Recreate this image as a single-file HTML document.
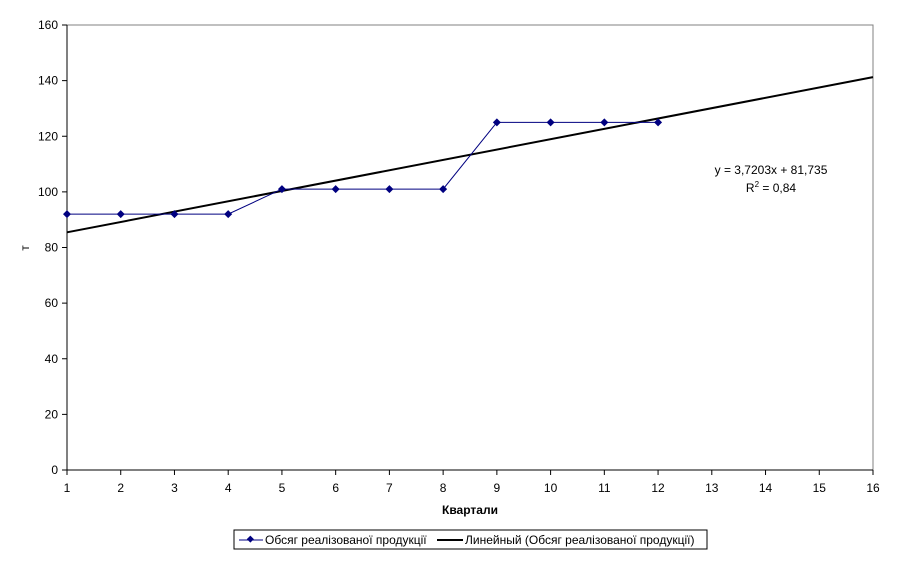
<!DOCTYPE html>
<html><head><meta charset="utf-8"><style>
body{margin:0;background:#fff}
svg text{font-family:"Liberation Sans",sans-serif;font-size:12px;fill:#000}
</style></head><body>
<svg id="c" width="897" height="558" xmlns="http://www.w3.org/2000/svg">
<rect x="67" y="25" width="806" height="445" fill="#fff" stroke="#808080"/>
<g id="axes"></g>
<g id="marks"></g>
<text x="29" y="248" transform="rotate(-90 29 248)" text-anchor="middle">т</text>
<text x="470" y="514" text-anchor="middle" font-weight="bold" style="font-weight:bold">Квартали</text>
<text x="771" y="174" text-anchor="middle">y = 3,7203x + 81,735</text>
<text x="771" y="192" text-anchor="middle">R<tspan font-size="8" dy="-5">2</tspan><tspan dy="5"> = 0,84</tspan></text>
<g>
<rect x="234" y="530" width="473" height="19" fill="#fff" stroke="#000"/>
<g>
<line x1="239" y1="540" x2="263" y2="540" stroke="#000080"/>
<rect x="247.5" y="536.5" width="5" height="5" fill="#000080" transform="rotate(45 250 539.5)"/>
<text x="265" y="544">Обсяг реалізованої продукції</text></g>
<g>
<line x1="437" y1="540" x2="463" y2="540" stroke="#000" stroke-width="2"/>
<text x="465" y="544">Линейный (Обсяг реалізованої продукції)</text></g>
</g>
</svg>
<script>
const categories=[1,2,3,4,5,6,7,8,9,10,11,12];
const values=[92,92,92,92,101,101,101,101,125,125,125,125];
const yTicks=[0,20,40,60,80,100,120,140,160];
const xTicks=[1,2,3,4,5,6,7,8,9,10,11,12,13,14,15,16];
const trendSlope=3.7203, trendIntercept=81.735;
const NS="http://www.w3.org/2000/svg";
const X=v=>67+(v-1)*806/15, Y=v=>470-v*445/160;
const axes=document.getElementById('axes'), marks=document.getElementById('marks');
function mk(t,a,p){const e=document.createElementNS(NS,t);for(const k in a)e.setAttribute(k,a[k]);p.appendChild(e);return e;}
mk('line',{x1:67,y1:25,x2:67,y2:470,stroke:'#000'},axes);
mk('line',{x1:67,y1:470,x2:873,y2:470,stroke:'#000'},axes);
yTicks.forEach(t=>{mk('line',{x1:62,y1:Y(t),x2:67,y2:Y(t),stroke:'#000'},axes);
const e=mk('text',{x:58,y:Y(t)+4,'text-anchor':'end'},axes);e.textContent=t;

});
xTicks.forEach(t=>{mk('line',{x1:X(t),y1:470,x2:X(t),y2:475,stroke:'#000'},axes);
const e=mk('text',{x:X(t),y:492,'text-anchor':'middle'},axes);e.textContent=t;

});
const tr=mk('line',{x1:X(1),y1:Y(trendSlope*1+trendIntercept),x2:X(16),y2:Y(trendSlope*16+trendIntercept),stroke:'#000','stroke-width':2},marks);


const pl=mk('polyline',{points:categories.map((c,i)=>X(c)+','+Y(values[i])).join(' '),fill:'none',stroke:'#000080'},marks);


categories.forEach((c,i)=>{const x=X(c),y=Y(values[i]);
const p=mk('polygon',{points:`${x},${y-4} ${x+4},${y} ${x},${y+4} ${x-4},${y}`,fill:'#000080'},marks);

});
</script>
</body></html>
